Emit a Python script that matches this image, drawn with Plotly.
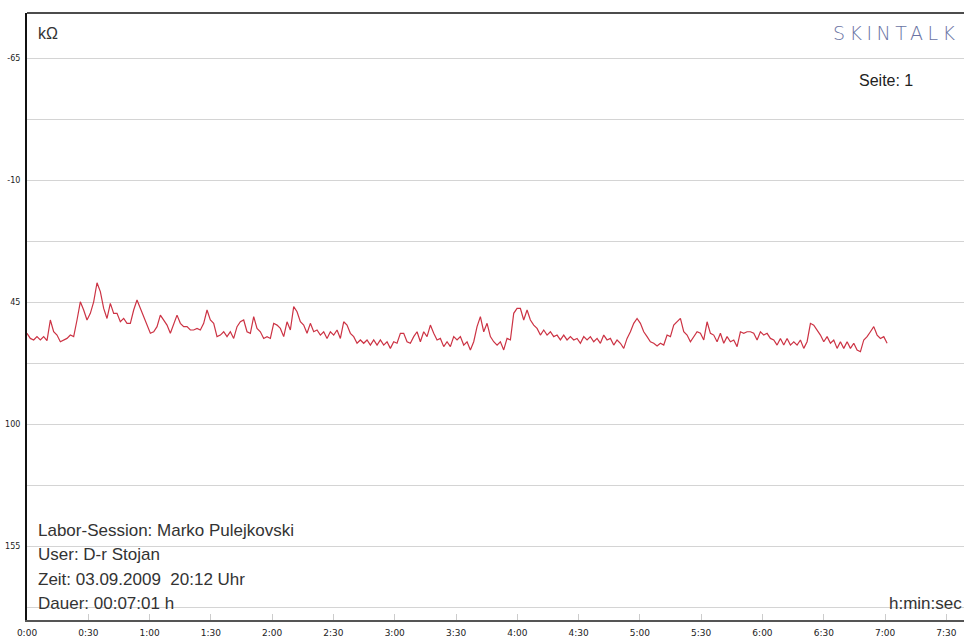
import plotly.graph_objects as go

# ---- data ----
DURATION_S = 421  # 00:07:01 h

resistance_kohm = [
    # 0:00 - ~1:45
    59.1, 61.4, 62.1, 60.6, 62.1, 60.6, 62.4, 53.1, 58.4, 59.9,
    62.9, 62.1, 61.4, 59.9, 60.6, 53.1, 44.9, 48.6, 53.1, 50.1,
    44.9, 36.3, 40.3, 47.9, 52.4, 45.6, 50.1, 50.1, 53.9, 52.4,
    54.6, 54.6, 48.6, 44.1, 47.9, 52.4, 56.1, 59.1, 58.4, 56.1,
    50.9, 53.1, 55.4, 59.1, 55.4, 50.9, 54.6, 56.1, 56.1, 57.6,
    57.6, 56.9, 57.6, 54.6, 48.6, 53.1, 54.6, 60.6, 59.9, 58.4,
    60.6, 58.4, 61.4, 56.1, 53.9,
    # ~1:46 - ~3:25
    53.1, 58.4, 59.1, 51.6, 56.9, 58.4, 61.4, 60.6, 61.4, 54.6,
    55.4, 56.9, 60.6, 53.9, 57.6, 47.1, 49.4, 53.9, 55.4, 59.1,
    54.6, 58.4, 57.6, 59.9, 58.4, 61.4, 58.4, 59.9, 57.6, 61.4,
    53.9, 55.4, 59.1, 60.6, 63.6, 62.1, 63.6, 62.1, 64.4, 62.1,
    64.4, 62.1, 64.4, 62.9, 65.9, 62.9, 63.6, 59.1, 59.1, 62.9,
    63.6, 60.6, 58.4, 62.9, 58.4, 60.6, 55.4, 59.1, 62.1, 61.4,
    65.1, 62.9,
    # ~3:27 - ~5:08
    65.1, 60.6, 62.1, 60.6, 64.4, 62.9, 66.6, 62.9, 56.1, 51.6,
    58.4, 54.6, 60.6, 62.9, 64.4, 62.9, 66.6, 61.4, 62.1, 50.1,
    47.9, 47.9, 53.1, 48.6, 53.1, 55.4, 56.9, 59.9, 57.6, 59.9,
    58.4, 60.6, 59.9, 62.1, 59.9, 62.1, 60.6, 62.1, 61.4, 63.6,
    60.6, 62.1, 60.6, 62.9, 61.4, 63.6, 59.9, 62.1, 61.4, 64.4,
    62.1, 63.6, 65.9, 61.4, 58.4, 54.6, 52.4, 54.6, 58.4, 60.6,
    62.9, 63.6, 64.8,
    # ~5:10 - 7:01
    63.6, 64.4, 59.9, 60.6, 55.4, 53.9, 52.4, 58.4, 59.9, 62.9,
    60.6, 58.4, 59.1, 62.1, 53.9, 59.1, 59.9, 62.9, 59.1, 63.6,
    60.6, 62.9, 62.1, 65.1, 58.4, 59.1, 58.4, 58.4, 59.1, 62.1,
    58.4, 59.9, 59.1, 61.4, 62.1, 64.4, 61.4, 64.4, 61.4, 64.4,
    62.9, 64.4, 62.1, 65.9, 62.9, 54.6, 55.4, 57.6, 59.9, 62.9,
    60.6, 63.6, 62.1, 65.9, 62.9, 65.9, 62.9, 65.9, 63.6, 66.6,
    67.4, 62.1, 60.6, 58.4, 56.1, 59.9, 61.4, 60.6, 63.6,
]
n = len(resistance_kohm)
time_s = [i * DURATION_S / (n - 1) for i in range(n)]

x_tick_vals = [0, 30, 60, 90, 120, 150, 180, 210, 240, 270, 300, 330, 360, 390, 420, 450]
x_tick_text = ["0:00", "0:30", "1:00", "1:30", "2:00", "2:30", "3:00", "3:30",
               "4:00", "4:30", "5:00", "5:30", "6:00", "6:30", "7:00", "7:30"]
y_tick_vals = [-65, -37.5, -10, 17.5, 45, 72.5, 100, 127.5, 155, 182.5]
y_tick_text = ["-65", "", "-10", "", "45", "", "100", "", "155", ""]

info_lines = [
    "Labor-Session: Marko Pulejkovski",
    "User: D-r Stojan",
    "Zeit: 03.09.2009  20:12 Uhr",
    "Dauer: 00:07:01 h",
]

# ---- figure (body margin removed by post_script) ----
W, H = 964, 642
ML, MT, MB, MR = 27, 13, 642 - 620, 0
PW, PH = W - ML - MR, H - MT - MB


def px(xw):  # window x pixel -> paper
    return (xw - ML) / PW


def py(yw):  # window y pixel -> paper
    return (H - MB - yw) / PH


fig = go.Figure()
fig.add_trace(go.Scatter(
    x=time_s, y=resistance_kohm, mode="lines",
    line=dict(color="#cc3344", width=1.2),
    hoverinfo="skip", showlegend=False,
))

font_main = "Liberation Sans, Arial, sans-serif"
txt = "#333333"
ann = []
ann.append(dict(text="kΩ", x=px(36), y=py(33), xanchor="left", yanchor="middle",
                font=dict(size=16, color=txt, family=font_main)))
ann.append(dict(text="SKINTALK", x=px(896), y=py(33), xanchor="center", yanchor="middle",
                font=dict(size=19, color="#6a73a3", family="DejaVu Sans", weight=200)))
ann.append(dict(text="Seite: 1", x=px(857), y=py(80), xanchor="left", yanchor="middle",
                font=dict(size=16, color="#222222", family=font_main)))
for i, line in enumerate(info_lines):
    ann.append(dict(text=line, x=px(36), y=py(530 + i * 24.5), xanchor="left", yanchor="middle",
                    font=dict(size=17, color=txt, family=font_main)))
ann.append(dict(text="h:min:sec", x=px(887), y=py(603), xanchor="left", yanchor="middle",
                font=dict(size=17, color=txt, family=font_main)))
for a in ann:
    a.update(xref="paper", yref="paper", showarrow=False)

fig.update_layout(
    width=W, height=H,
    margin=dict(l=ML, r=MR, t=MT, b=MB, pad=0),
    paper_bgcolor="white", plot_bgcolor="white",
    annotations=ann,
    shapes=[dict(type="line", xref="paper", yref="paper", x0=0, x1=1, y0=1, y1=1,
                 line=dict(color="#111111", width=1.5))],
    xaxis=dict(
        range=[0, PW / 2.043], tickvals=x_tick_vals, ticktext=x_tick_text,
        showgrid=False, zeroline=False,
        showline=True, linecolor="#555555", linewidth=2,
        ticks="inside", ticklen=6, tickcolor="#cccccc", tickwidth=1,
        tickfont=dict(size=9, color="#222222", family="DejaVu Sans"),
        ticklabelstandoff=3,
    ),
    yaxis=dict(
        range=[-85.3 + PH * 55 / 122, -85.3], tickvals=y_tick_vals, ticktext=y_tick_text,
        showgrid=True, gridcolor="#d4d4d4", gridwidth=1, zeroline=False,
        showline=True, linecolor="#111111", linewidth=2,
        ticks="", tickfont=dict(size=8, color="#222222", family="DejaVu Sans"),
        ticklabelstandoff=3,
    ),
)

post_js = """
document.body.style.margin = '0';
document.body.style.overflow = 'hidden';
document.querySelectorAll('.annotation-text').forEach(function(t){
  if (t.textContent === 'SKINTALK') { t.setAttribute('letter-spacing', '4.5px'); }
});
"""

fig.write_html("out.html", post_script=post_js, config={"displayModeBar": False})
